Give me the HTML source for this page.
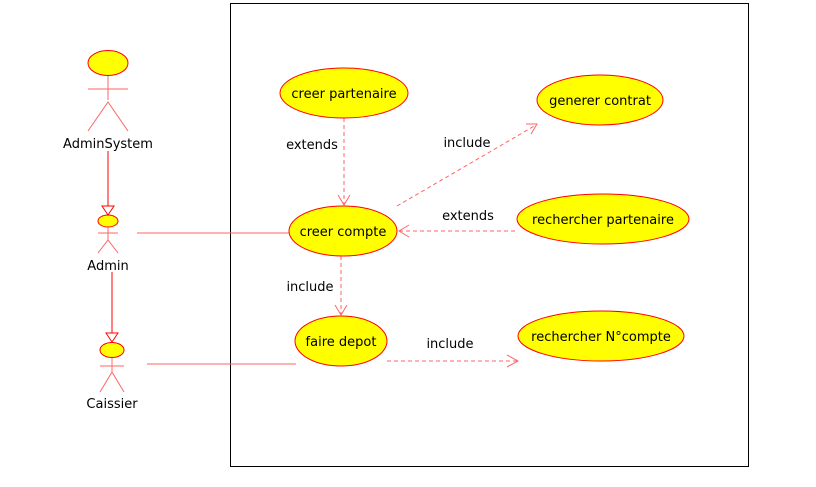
<!DOCTYPE html>
<html><head><style>html,body{margin:0;padding:0;background:#fff;width:816px;height:487px;overflow:hidden}svg text{font-family:"DejaVu Sans","Liberation Sans",sans-serif;font-size:13px;fill:#000}</style></head>
<body>
<svg width="816" height="487" viewBox="0 0 816 487">
<rect x="230.5" y="3.5" width="518" height="463" fill="none" stroke="#000" stroke-width="1"/>
<g stroke="#f00" stroke-width="1" fill="none">
<!-- AdminSystem -->
<ellipse cx="108" cy="63" rx="20" ry="12.5" fill="#ff0"/>
<line x1="108" y1="76" x2="108" y2="100" stroke="#f66"/>
<line x1="88" y1="89" x2="128" y2="89" stroke="#f66"/>
<polyline points="88,131 108,102 128,131" stroke="#f66"/>
<!-- Admin -->
<ellipse cx="108" cy="221" rx="10" ry="6" fill="#ff0"/>
<line x1="108" y1="227" x2="108" y2="240" stroke="#f66"/>
<line x1="98" y1="233" x2="118" y2="233" stroke="#f66"/>
<polyline points="98,253 108,240 118,253" stroke="#f66"/>
<!-- Caissier -->
<ellipse cx="112" cy="350" rx="12" ry="7.5" fill="#ff0"/>
<line x1="112" y1="358" x2="112" y2="372" stroke="#f66"/>
<line x1="100" y1="366" x2="124" y2="366" stroke="#f66"/>
<polyline points="100,392 112,372 124,392" stroke="#f66"/>
<!-- generalizations -->
<line x1="108" y1="151" x2="108" y2="206"/>
<polygon points="102,206 114,206 108,215" fill="#fff"/>
<line x1="112" y1="272" x2="112" y2="333"/>
<polygon points="106,333 118,333 112,342" fill="#fff"/>
<!-- associations -->
<line x1="137" y1="233" x2="290" y2="233" stroke="#f66"/>
<line x1="147" y1="364" x2="296" y2="364" stroke="#f66"/>
<!-- dashed -->
<g stroke="#f66" stroke-dasharray="4,3">
<line x1="344" y1="118" x2="344" y2="205"/>
<line x1="341" y1="256" x2="341" y2="315"/>
<line x1="399" y1="231" x2="517" y2="231"/>
<line x1="387" y1="361" x2="517" y2="361"/>
<line x1="397" y1="206" x2="536" y2="125"/>
</g>
<g stroke="#f66">
<polyline points="338,195 344,205 350,195"/>
<polyline points="335,305 341,315 347,305"/>
<polyline points="409,225 399,231 409,237"/>
<polyline points="507,355 518,361 507,367"/>
<polyline points="526,124 537,124 531,134"/>
</g>
<!-- use cases -->
<ellipse cx="344" cy="93" rx="64" ry="25" fill="#ff0"/>
<ellipse cx="600" cy="100" rx="63" ry="25" fill="#ff0"/>
<ellipse cx="343" cy="231" rx="54" ry="25" fill="#ff0"/>
<ellipse cx="603" cy="219" rx="86" ry="25" fill="#ff0"/>
<ellipse cx="341" cy="341" rx="46" ry="25" fill="#ff0"/>
<ellipse cx="601" cy="336" rx="83" ry="25" fill="#ff0"/>
</g>
<g text-anchor="middle">
<text x="108" y="148">AdminSystem</text>
<text x="108" y="270">Admin</text>
<text x="112" y="408">Caissier</text>
<text x="344" y="98">creer partenaire</text>
<text x="600" y="105">generer contrat</text>
<text x="343" y="236">creer compte</text>
<text x="603" y="224">rechercher partenaire</text>
<text x="341" y="346">faire depot</text>
<text x="601" y="341">rechercher N°compte</text>
<text x="312" y="149">extends</text>
<text x="467" y="147">include</text>
<text x="468" y="220">extends</text>
<text x="310" y="291">include</text>
<text x="450" y="348">include</text>
</g>
</svg>
</body></html>
